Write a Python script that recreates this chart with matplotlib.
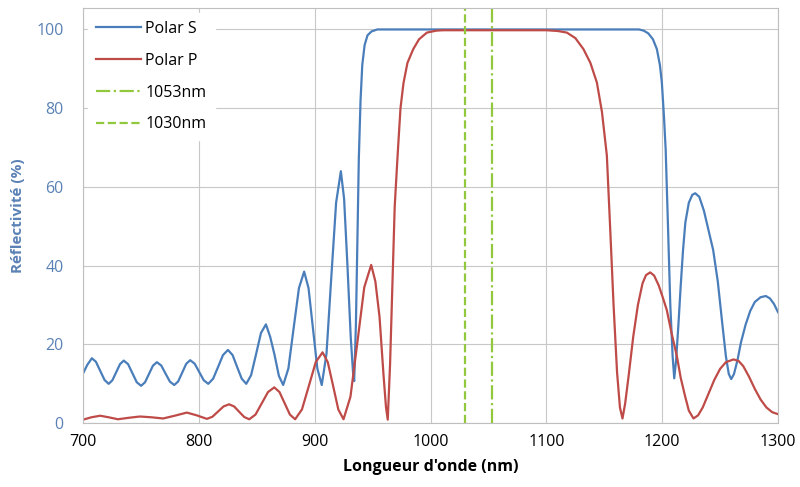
import matplotlib.pyplot as plt

plt.rcParams['font.family'] = ['Open Sans', 'DejaVu Sans']

# Polar S (blue)
s_wl = [700, 703.5, 707.5, 711, 714.75, 718.5, 722, 725.2, 728.5, 731.8, 735,
        738.75, 742.5, 746.25, 750, 753.4, 756.8, 760.2, 763.6, 767.4, 771.1,
        774.9, 778.6, 782, 785.5, 789, 792.4, 796.3, 800.2, 804.1, 808, 812.2,
        816.5, 820.7, 825, 829, 832.9, 836.9, 840.8, 845, 849.3, 853.5, 857.8,
        861.5, 865.2, 869, 872.7, 877.2, 881.7, 886.3, 890.8, 894.6, 898.4,
        902.2, 906, 910.1, 914.2, 918.4, 922.5, 925.3, 928.2, 931, 933, 934,
        935.5, 937, 938, 939.5, 941, 943, 945.5, 949, 954, 1000, 1100, 1180,
        1184, 1188, 1192, 1195.4, 1198, 1199.7, 1201.5, 1203, 1205, 1207, 1209,
        1210.4, 1212, 1214, 1216, 1218, 1220, 1223, 1226, 1228.5, 1232, 1236,
        1240, 1244, 1248, 1252, 1255, 1257.5, 1259.6, 1262, 1265, 1268, 1272,
        1276, 1280, 1285, 1289.5, 1293, 1296.5, 1300]
s_r = [12.7, 14.8, 16.5, 15.6, 13.25, 10.95, 10.0, 10.9, 12.95, 15.0, 15.9,
       15.0, 12.7, 10.4, 9.5, 10.4, 12.5, 14.6, 15.5, 14.65, 12.6, 10.55, 9.7,
       10.6, 12.85, 15.1, 16.0, 15.1, 13.0, 10.9, 10.0, 11.3, 14.3, 17.3, 18.6,
       17.3, 14.3, 11.3, 10.0, 12.2, 17.55, 22.9, 25.1, 21.9, 17.4, 12.0, 9.7,
       13.9, 24.1, 34.3, 38.5, 34.3, 24.1, 13.9, 9.7, 17.65, 36.85, 56.0, 64.0,
       57, 40, 22, 13, 10.7, 25, 50, 67, 82, 91, 96, 98.5, 99.5, 100, 100, 100,
       100, 99.7, 99, 97.5, 95, 91, 86.5, 78, 69.5, 50, 30, 17, 11.4, 16, 25,
       35, 44, 51, 56, 58, 58.4, 57.5, 54, 49, 44, 36, 25, 17, 12.5, 11.2,
       12.5, 16, 20.5, 25, 28.5, 30.8, 32, 32.3, 31.7, 30.3, 28.2]

# Polar P (red)
p_wl = [700, 707, 714.7, 722, 730, 740, 749, 759, 769, 779, 789.5, 798, 806.8,
        811.6, 816.4, 821.2, 826, 830.4, 834.7, 839.1, 843.4, 848.8, 854.2,
        859.6, 865, 869.5, 874, 878.5, 883, 888.9, 894.9, 900.8, 906.7, 911.2,
        915.8, 920.3, 924.8, 930.8, 936.8, 942.7, 948.7, 952.3, 955.9, 959.4,
        961.5, 963, 965, 967, 969, 971.5, 974, 976.6, 980, 985, 990, 996.8,
        1005, 1011, 1100, 1110, 1117.7, 1125, 1132, 1138, 1143.6, 1148, 1152.2,
        1155, 1158, 1161, 1163.5, 1165.7, 1168, 1171, 1175, 1179, 1183, 1186,
        1189.6, 1193, 1197, 1201, 1204, 1208, 1212.7, 1216, 1219.9, 1223, 1227,
        1231, 1235, 1240, 1245, 1250, 1255, 1261.6, 1266, 1270, 1275, 1280,
        1285, 1290, 1295, 1300]
p_r = [0.9, 1.5, 1.9, 1.5, 1.0, 1.4, 1.7, 1.5, 1.2, 1.9, 2.7, 2.0, 1.1,
       1.64, 2.95, 4.26, 4.8, 4.24, 2.9, 1.56, 1.0, 2.19, 5.05, 7.91, 9.1,
       7.91, 5.05, 2.19, 1.0, 3.49, 9.5, 15.5, 18.0, 15.5, 9.5, 3.49, 1.0,
       6.74, 20.6, 34.5, 40.2, 36, 27, 12, 4, 0.9, 15, 35, 55, 68, 80, 86.4,
       91.5, 95, 97.5, 99.2, 99.7, 99.8, 99.8, 99.6, 99.2, 97.8, 95, 91.5,
       86.5, 79, 68, 50, 30, 13, 4, 1.2, 5, 12, 22, 30, 35.5, 37.6, 38.3, 37.5,
       35, 31.5, 28.7, 23, 17, 11.5, 6.7, 3.2, 1.2, 2.0, 4.0, 7.5, 11, 13.8,
       15.5, 16.2, 15.8, 14.5, 11.8, 8.7, 6, 4, 2.8, 2.3]

laser_1053 = 1053
laser_1030 = 1030

blue = '#4A7EBB'
red = '#BE4B48'
green = '#92C83E'

fig = plt.figure(figsize=(8, 4.87), dpi=100)
ax = fig.add_axes([0.104, 0.131, 0.8685, 0.853])

ax.plot(s_wl, s_r, color=blue, lw=1.6, label='Polar S', solid_joinstyle='round')
ax.plot(p_wl, p_r, color=red, lw=1.6, label='Polar P', solid_joinstyle='round')
ax.axvline(laser_1053, color=green, lw=1.6, ls='-.', label='1053nm')
ax.axvline(laser_1030, color=green, lw=1.6, ls='--', label='1030nm')

ax.set_xlim(700, 1300)
ax.set_ylim(0, 105.5)
ax.set_xticks(range(700, 1301, 100))
ax.set_yticks(range(0, 101, 20))
ax.grid(True, color='#C8C8C8', lw=0.8)
ax.set_axisbelow(True)
for sp in ax.spines.values():
    sp.set_color('#BFBFBF')
    sp.set_linewidth(0.8)
ax.tick_params(length=0, labelsize=11.5, pad=8)
ax.tick_params(axis='y', labelcolor='#5B82B5', pad=14)

ax.set_xlabel("Longueur d'onde (nm)", fontsize=11.5, fontweight='bold', labelpad=6)
ax.set_ylabel('Réflectivité (%)', fontsize=11, fontweight='bold',
              color='#5B82B5', labelpad=8)

leg = ax.legend(loc='upper left', frameon=True, fontsize=11.5, handlelength=2.8,
                labelspacing=1.0, borderaxespad=0.3, handletextpad=0.3,
                borderpad=0.5)
leg.get_frame().set_facecolor('white')
leg.get_frame().set_edgecolor('white')
leg.get_frame().set_alpha(1)

fig.savefig('out.png', dpi=100)
